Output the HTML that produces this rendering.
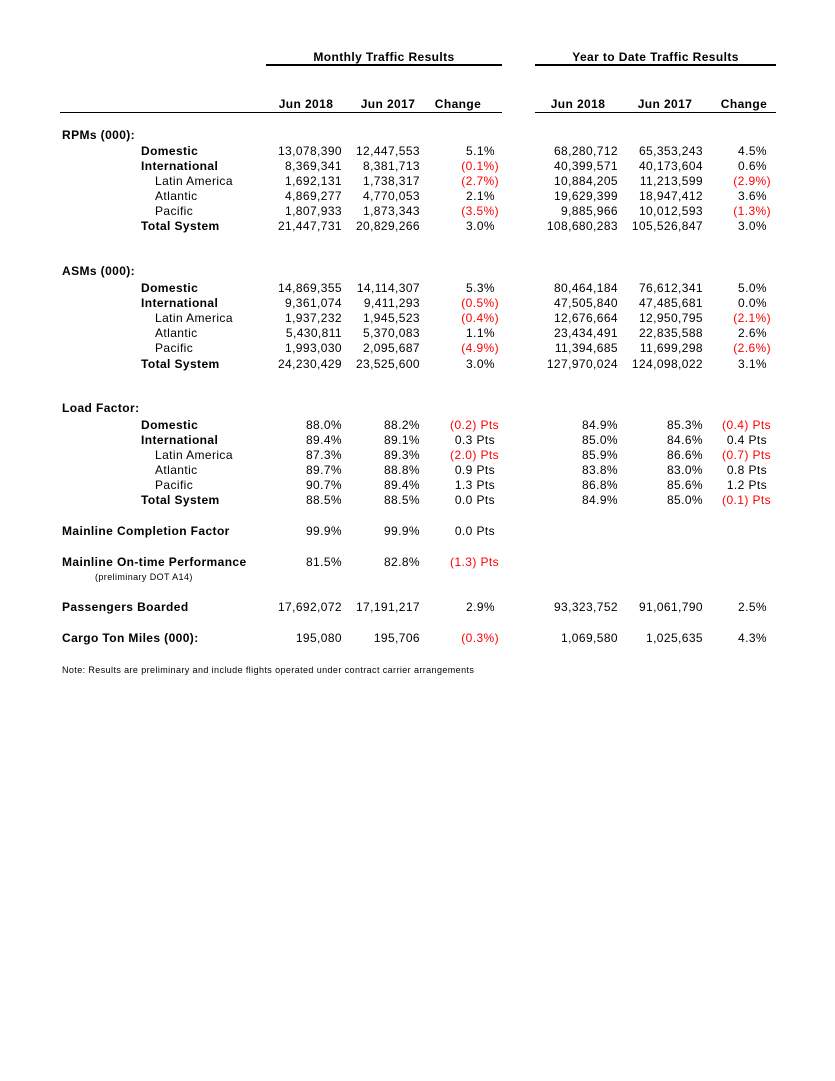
<!DOCTYPE html>
<html><head><meta charset="utf-8">
<style>
body{margin:0;background:#fff;width:835px;height:1081px;position:relative;overflow:hidden;font-family:"Liberation Sans",Arial,sans-serif;font-size:12px;color:#000}
.t{position:absolute;line-height:14px;white-space:nowrap;letter-spacing:0.4px}
.b{font-weight:bold}
.r{color:#f00}
.ln{position:absolute;background:#000}
</style></head><body>
<div class="t b" style="left:266px;width:236px;text-align:center;top:50px">Monthly Traffic Results</div>
<div class="t b" style="left:535px;width:241px;text-align:center;top:50px">Year to Date Traffic Results</div>
<div class="ln" style="left:266px;width:236px;top:64px;height:2px"></div>
<div class="ln" style="left:535px;width:241px;top:64px;height:2px"></div>
<div class="ln" style="left:60px;width:442px;top:112px;height:1px"></div>
<div class="ln" style="left:535px;width:241px;top:112px;height:1px"></div>
<div id="root"></div>
<script>
const headers=["Jun 2018","Jun 2017","Change","Jun 2018","Jun 2017","Change"];
const headerCenters=[306,388,458,578,665,744];
const colRight=[342,420,498,618,703,770];
const rows=[
[135,"RPMs (000):","s"],
[151,"Domestic","b","13,078,390","12,447,553","5.1%","68,280,712","65,353,243","4.5%"],
[166,"International","b","8,369,341","8,381,713","(0.1%)","40,399,571","40,173,604","0.6%"],
[181,"Latin America","i","1,692,131","1,738,317","(2.7%)","10,884,205","11,213,599","(2.9%)"],
[196,"Atlantic","i","4,869,277","4,770,053","2.1%","19,629,399","18,947,412","3.6%"],
[211,"Pacific","i","1,807,933","1,873,343","(3.5%)","9,885,966","10,012,593","(1.3%)"],
[226,"Total System","b","21,447,731","20,829,266","3.0%","108,680,283","105,526,847","3.0%"],
[271,"ASMs (000):","s"],
[288,"Domestic","b","14,869,355","14,114,307","5.3%","80,464,184","76,612,341","5.0%"],
[303,"International","b","9,361,074","9,411,293","(0.5%)","47,505,840","47,485,681","0.0%"],
[318,"Latin America","i","1,937,232","1,945,523","(0.4%)","12,676,664","12,950,795","(2.1%)"],
[333,"Atlantic","i","5,430,811","5,370,083","1.1%","23,434,491","22,835,588","2.6%"],
[348,"Pacific","i","1,993,030","2,095,687","(4.9%)","11,394,685","11,699,298","(2.6%)"],
[364,"Total System","b","24,230,429","23,525,600","3.0%","127,970,024","124,098,022","3.1%"],
[408,"Load Factor:","s"],
[425,"Domestic","b","88.0%","88.2%","(0.2) Pts","84.9%","85.3%","(0.4) Pts"],
[440,"International","b","89.4%","89.1%","0.3 Pts","85.0%","84.6%","0.4 Pts"],
[455,"Latin America","i","87.3%","89.3%","(2.0) Pts","85.9%","86.6%","(0.7) Pts"],
[470,"Atlantic","i","89.7%","88.8%","0.9 Pts","83.8%","83.0%","0.8 Pts"],
[485,"Pacific","i","90.7%","89.4%","1.3 Pts","86.8%","85.6%","1.2 Pts"],
[500,"Total System","b","88.5%","88.5%","0.0 Pts","84.9%","85.0%","(0.1) Pts"],
[531,"Mainline Completion Factor","s","99.9%","99.9%","0.0 Pts"],
[562,"Mainline On-time Performance","s","81.5%","82.8%","(1.3) Pts"],
[607,"Passengers Boarded","s","17,692,072","17,191,217","2.9%","93,323,752","91,061,790","2.5%"],
[638,"Cargo Ton Miles (000):","s","195,080","195,706","(0.3%)","1,069,580","1,025,635","4.3%"]
];
const root=document.getElementById('root');
function mk(txt,css,cls){const d=document.createElement('div');d.className='t '+(cls||'');d.textContent=txt;d.style.cssText=css;root.appendChild(d);return d;}
headers.forEach((h,i)=>{
 const d=mk(h,`left:${headerCenters[i]-50}px;width:100px;text-align:center;top:97px`,'b');
 
 
});
rows.forEach(r=>{
 const y=r[0]-7;
 const x=r[2]==='s'?62:(r[2]==='b'?141:155);
 const lab=mk(r[1],`left:${x}px;top:${y}px`,r[2]==='i'?'':'b');
 
 
 for(let i=3;i<r.length;i++){
  const v=r[i];const c=i-3;
  const neg=v.startsWith('(');
  const right=colRight[c]+(neg?1:(c%3===2?-3:0));
  const cell=mk(v,`left:${right-120}px;width:120px;text-align:right;top:${y}px`,neg?'r':'');
  
  
 }
});
const pre=mk('(preliminary DOT A14)','left:95px;top:571px;font-size:9px;line-height:12px','');


const note=mk('Note: Results are preliminary and include flights operated under contract carrier arrangements','left:62px;top:664px;font-size:9px;line-height:12px','');


</script>
</body></html>
